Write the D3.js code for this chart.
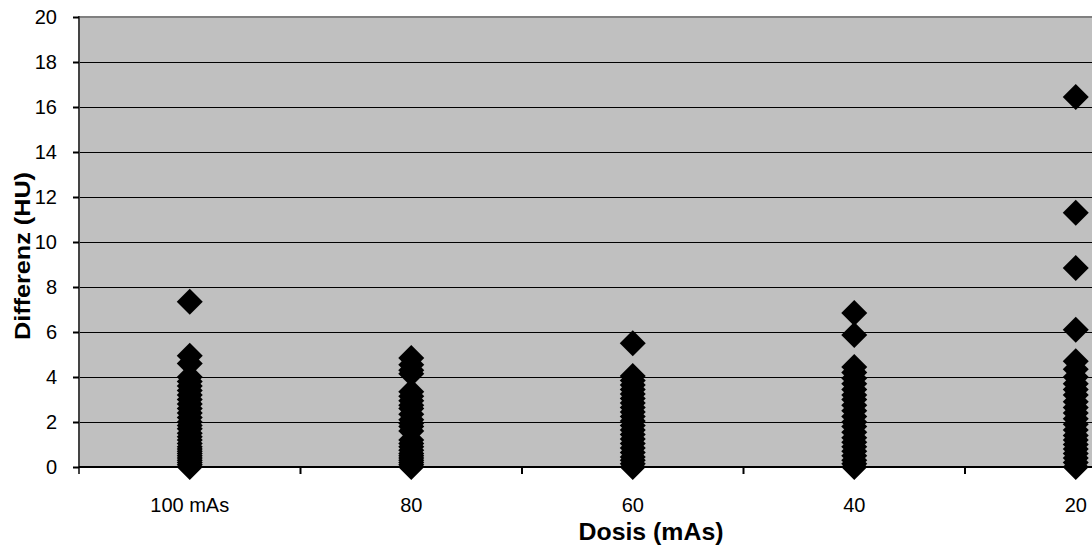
<!DOCTYPE html>
<html>
<head>
<meta charset="utf-8">
<script src="https://cdn.jsdelivr.net/npm/d3@7"></script>
<style>
  html, body { margin: 0; padding: 0; background: #fff; }
  svg { display: block; font-family: "Liberation Sans", Arial, sans-serif; }
</style>
</head>
<body>
<svg id="chart" width="1092" height="548"></svg>
<script>
  var categories = ['100 mAs', '80', '60', '40', '20'];
  var yTicks = [0, 2, 4, 6, 8, 10, 12, 14, 16, 18, 20];

  // differences per dose level (HU)
  var diff100 = [7.35, 4.95, 4.6, 4.0, 3.8, 3.6, 3.4, 3.2, 3.0, 2.8, 2.6, 2.4, 2.2, 2.0, 1.85,
                 1.7, 1.5, 1.35, 1.2, 1.05, 0.9, 0.8, 0.7, 0.6, 0.5, 0.4, 0.3, 0.2, 0.1, 0];
  var diff80 = [4.85, 4.55, 4.3, 4.15, 3.35, 3.15, 2.95, 2.75, 2.6, 2.35, 2.1, 1.95, 1.8, 1.6,
                1.2, 1.05, 0.9, 0.75, 0.6, 0.5, 0.4, 0.3, 0.2, 0.1, 0];
  var diff60 = [5.5, 4.05, 3.85, 3.65, 3.45, 3.25, 3.05, 2.85, 2.65, 2.45, 2.25, 2.05, 1.85,
                1.65, 1.45, 1.25, 1.05, 0.85, 0.65, 0.45, 0.3, 0.15, 0];
  var diff40 = [6.85, 5.87, 4.45, 4.2, 3.95, 3.7, 3.45, 3.2, 3.0, 2.75, 2.5, 2.25, 2.0, 1.8,
                1.55, 1.3, 1.1, 0.9, 0.7, 0.5, 0.3, 0.15, 0];
  var diff20 = [16.45, 11.3, 8.85, 6.1, 4.7, 4.35, 4.0, 3.7, 3.45, 3.2, 2.9, 2.65, 2.4, 2.15,
                1.9, 1.65, 1.4, 1.2, 1.0, 0.8, 0.6, 0.4, 0.2, 0];
  var series = [diff100, diff80, diff60, diff40, diff20];

(function () {
  var svg = d3.select('#chart'),
      left = 79, plotTop = 17, bottom = 467,
      bandW = 221.5;

  var x = d3.scaleBand()
    .domain(categories)
    .range([left, left + bandW * categories.length]);
  var y = d3.scaleLinear().domain([0, 20]).range([bottom, plotTop]);
  var right = x.range()[1];

  // plot background
  svg.append('rect')
    .attr('x', left).attr('y', plotTop)
    .attr('width', right - left).attr('height', bottom - plotTop)
    .attr('fill', '#c0c0c0');

  // gridlines
  svg.append('g')
    .selectAll('line')
    .data(yTicks.filter(function (d) { return d > 0 && d < 20; }))
    .enter().append('line')
      .attr('x1', left).attr('x2', right)
      .attr('y1', function (d) { return Math.round(y(d)) + 0.5; })
      .attr('y2', function (d) { return Math.round(y(d)) + 0.5; })
      .attr('stroke', '#000').attr('stroke-width', 1);

  // top border
  svg.append('line')
    .attr('x1', left).attr('x2', right)
    .attr('y1', plotTop).attr('y2', plotTop)
    .attr('stroke', '#808080').attr('stroke-width', 2);

  // y axis
  var yAxis = svg.append('g')
    .attr('transform', 'translate(' + left + ',0)')
    .call(d3.axisLeft(y).tickValues(yTicks).tickSize(6).tickPadding(16));
  yAxis.select('.domain').attr('stroke', '#444').attr('stroke-width', 2)
    .attr('d', 'M0,' + (plotTop - 1) + 'V' + (bottom + 7));
  yAxis.selectAll('.tick line').attr('stroke', '#000').attr('stroke-width', 2);
  yAxis.selectAll('.tick text')
    .attr('font-size', 20).attr('fill', '#000')
    .attr('font-family', '"Liberation Sans", Arial, sans-serif');

  // x axis: ticks between categories
  var bounds = d3.range(categories.length + 1).map(function (i) { return left + i * bandW; });
  svg.append('line')
    .attr('x1', left).attr('x2', right)
    .attr('y1', bottom).attr('y2', bottom)
    .attr('stroke', '#000').attr('stroke-width', 2);
  svg.append('g').selectAll('line')
    .data(bounds.slice(1))
    .enter().append('line')
      .attr('x1', function (d) { return d; }).attr('x2', function (d) { return d; })
      .attr('y1', bottom).attr('y2', bottom + 7)
      .attr('stroke', '#000').attr('stroke-width', 2);
  svg.append('g').selectAll('text')
    .data(categories)
    .enter().append('text')
      .attr('x', function (d) { return x(d) + x.bandwidth() / 2; })
      .attr('y', 512)
      .attr('text-anchor', 'middle')
      .attr('font-size', 20)
      .text(function (d) { return d; });

  // markers
  var r = 13;
  var diamond = 'M0,' + (-r) + 'L' + r + ',0L0,' + r + 'L' + (-r) + ',0Z';
  var pts = [];
  series.forEach(function (vals, i) {
    vals.forEach(function (v) { pts.push({cat: categories[i], v: v}); });
  });
  svg.append('g').selectAll('path')
    .data(pts)
    .enter().append('path')
      .attr('d', diamond)
      .attr('transform', function (d) {
        return 'translate(' + (x(d.cat) + x.bandwidth() / 2) + ',' + y(d.v) + ')';
      })
      .attr('fill', '#000');

  // axis titles
  svg.append('text')
    .attr('x', 651).attr('y', 540)
    .attr('text-anchor', 'middle')
    .attr('font-size', 24).attr('font-weight', 'bold')
    .attr('textLength', 145).attr('lengthAdjust', 'spacingAndGlyphs')
    .text('Dosis (mAs)');
  svg.append('text')
    .attr('transform', 'translate(30,256) rotate(-90)')
    .attr('text-anchor', 'middle')
    .attr('font-size', 22).attr('font-weight', 'bold')
    .attr('textLength', 168).attr('lengthAdjust', 'spacingAndGlyphs')
    .text('Differenz (HU)');
})();
</script>
</body>
</html>
